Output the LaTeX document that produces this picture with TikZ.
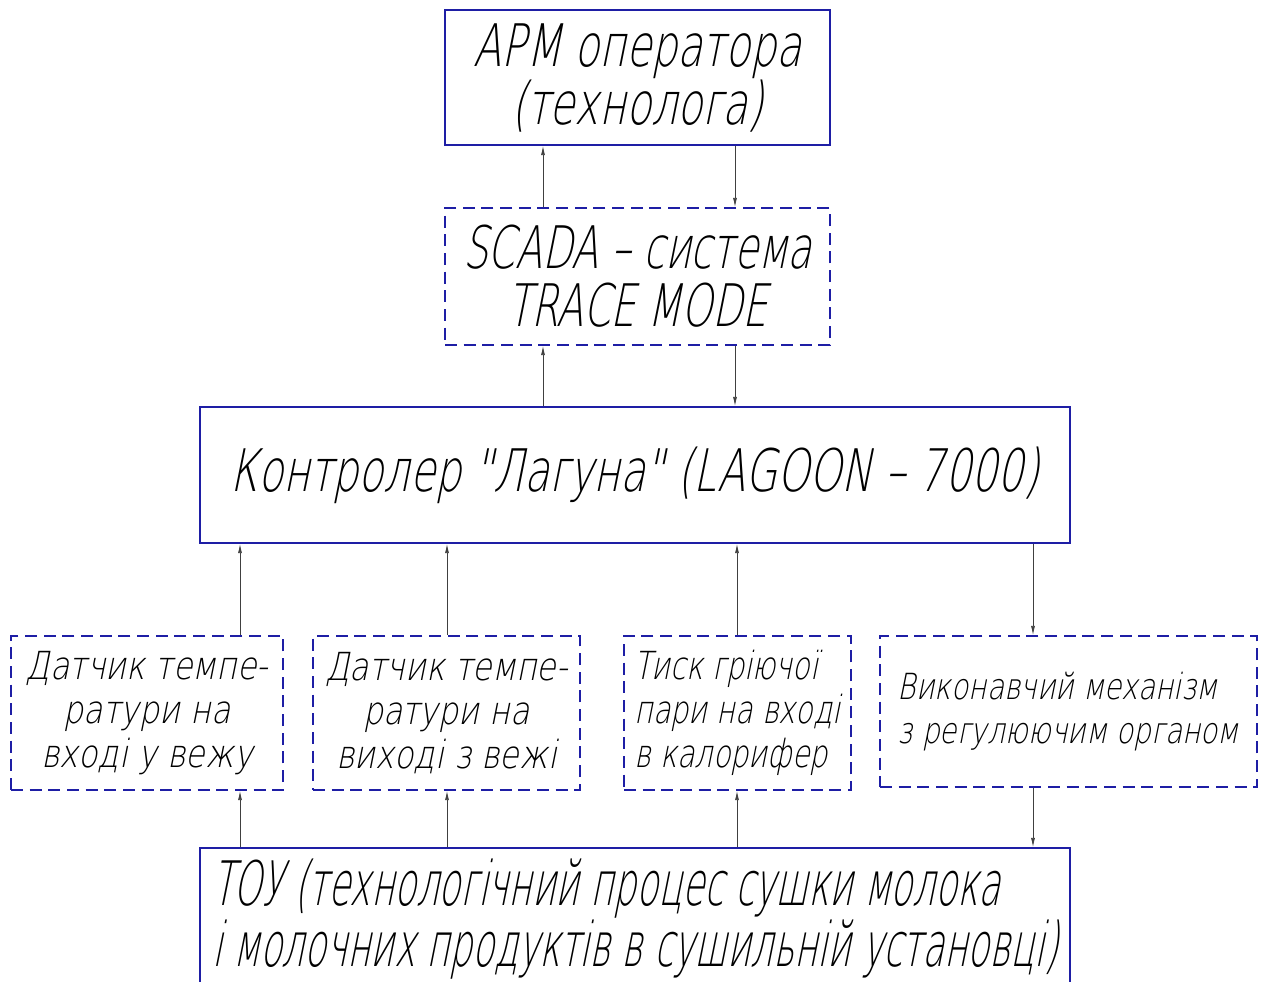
\documentclass[tikz,border=0pt]{standalone}
\usepackage{fontspec}
% thin slanted lettering, several widths
\newfontfamily\gost{DejaVu Sans ExtraLight}[FakeSlant=0.2, FakeStretch=0.70]
\newfontfamily\gostscada{DejaVu Sans ExtraLight}[FakeSlant=0.2, FakeStretch=0.67]
\newfontfamily\gostnarrow{DejaVu Sans ExtraLight}[FakeSlant=0.2, FakeStretch=0.58]
\newfontfamily\gostwide{DejaVu Sans ExtraLight}[FakeSlant=0.2, FakeStretch=0.82]
\newfontfamily\gostmid{DejaVu Sans ExtraLight}[FakeSlant=0.2, FakeStretch=0.78]
\newfontfamily\gostpress{DejaVu Sans ExtraLight}[FakeSlant=0.2, FakeStretch=0.74]
\usetikzlibrary{arrows.meta}
\definecolor{frameblue}{RGB}{30,30,165}

\begin{document}
\begin{tikzpicture}[x=0.75pt,y=0.75pt,yscale=-1,xscale=1,
  solidbox/.style={draw=frameblue, line width=1.2pt, inner sep=0pt},
  dashbox/.style={solidbox, dash pattern={on 9pt off 5pt}},
  sig/.style={draw=black!75, line width=0.6pt, -{Latex[length=7pt,width=3pt]}}]
  \useasboundingbox (0,0) rectangle (1266,981);

  % Upper blocks
  \node [solidbox, minimum width=288.75pt, minimum height=101.25pt, align=center, font=\gost\fontsize{44}{43.5}\selectfont] (arm) at (637.5,77.5) {АРМ оператора\\(технолога)};
  \node [dashbox, minimum width=288.75pt, minimum height=102.75pt, align=center, font=\gostscada\fontsize{44}{43.5}\selectfont] (scada) at (637.5,276.5) {SCADA – система\\TRACE MODE};
  \node [solidbox, minimum width=652.5pt, minimum height=102pt, font=\gost\fontsize{44}{43.5}\selectfont] (ctrl) at (635,475) {Контролер "Лагуна" (LAGOON – 7000)};

  % Sensors and actuator
  \node [dashbox, minimum width=204pt, minimum height=115.5pt, align=center, font=\gostwide\fontsize{29}{33}\selectfont] (tin) at (147,713) {Датчик темпе-\\ратури на\\вході у вежу};
  \node [dashbox, minimum width=200.25pt, minimum height=115.5pt, align=center, font=\gostwide\fontsize{29}{33}\selectfont] (tout) at (446.5,713) {Датчик темпе-\\ратури на\\виході з вежі};
  \node [dashbox, minimum width=170.25pt, minimum height=115.5pt, align=left, font=\gostpress\fontsize{29}{33}\selectfont] (press) at (737.5,713) {Тиск гріючої\\пари на вході\\в калорифер};
  \node [dashbox, minimum width=282.75pt, minimum height=113.25pt, align=left, font=\gostmid\fontsize{27}{33.5}\selectfont] (act) at (1068.5,711.5) {Виконавчий механізм\\з регулюючим органом};

  % Process
  \node [solidbox, minimum width=652.5pt, minimum height=106.5pt, align=left, font=\gostnarrow\fontsize{46}{39.5}\selectfont] (tou) at (635,919) {ТОУ (технологічний процес сушки молока\\і молочних продуктів в сушильній установці)};

  % Columns of the links
  \coordinate (cA) at (543,0);
  \coordinate (cB) at (735,0);
  \coordinate (c1) at (240,0);
  \coordinate (c2) at (447,0);
  \coordinate (c3) at (737,0);
  \coordinate (c4) at (1033,0);

  %Straight Lines
  \draw [sig] (scada.north -| cA) -- (arm.south -| cA);
  \draw [sig] (arm.south -| cB) -- (scada.north -| cB);
  \draw [sig] (ctrl.north -| cA) -- (scada.south -| cA);
  \draw [sig] (scada.south -| cB) -- (ctrl.north -| cB);

  \draw [sig] (tin.north -| c1) -- (ctrl.south -| c1);
  \draw [sig] (tout.north -| c2) -- (ctrl.south -| c2);
  \draw [sig] (press.north -| c3) -- (ctrl.south -| c3);
  \draw [sig] (ctrl.south -| c4) -- (act.north -| c4);

  \draw [sig] (tou.north -| c1) -- (tin.south -| c1);
  \draw [sig] (tou.north -| c2) -- (tout.south -| c2);
  \draw [sig] (tou.north -| c3) -- (press.south -| c3);
  \draw [sig] (act.south -| c4) -- (tou.north -| c4);
\end{tikzpicture}
\end{document}
